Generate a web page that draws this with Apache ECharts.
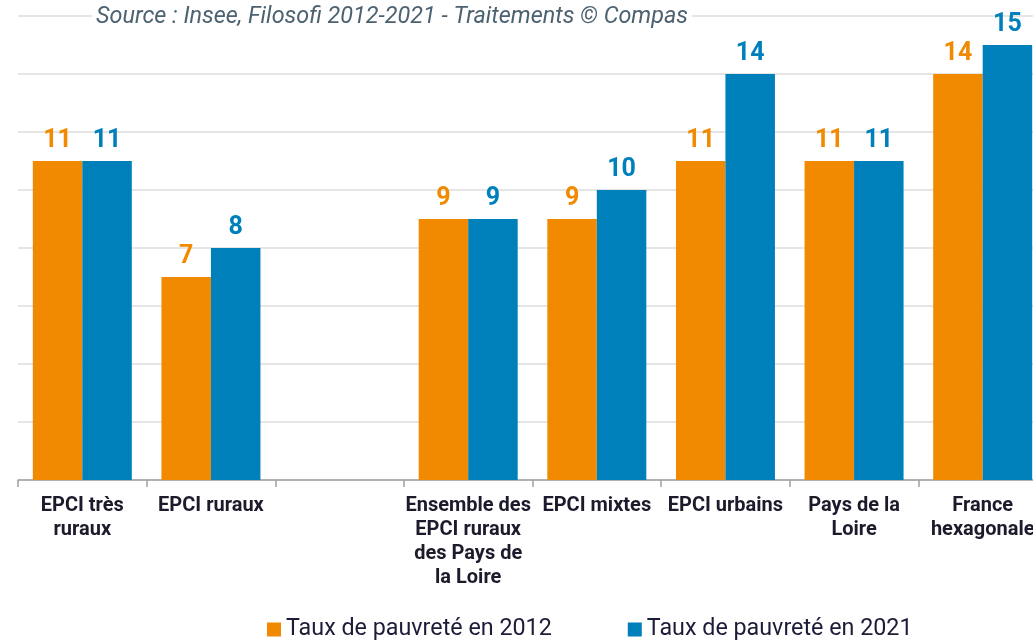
<!DOCTYPE html>
<html>
<head>
<meta charset="utf-8">
<script src="https://cdn.jsdelivr.net/npm/echarts@6/dist/echarts.min.js"></script>
<style>
  html, body { margin: 0; padding: 0; background: #fff; overflow: hidden; }
  /* le graphique d'origine est coupé à droite : la zone de tracé déborde de la fenêtre */
  #chart { width: 1047px; height: 640px; }
</style>
</head>
<body>
<div id="chart"></div>
<script>
  // catégories (la 3e est vide dans l'original)
  var categories = ['EPCI très\nruraux', 'EPCI ruraux', '', 'Ensemble des\nEPCI ruraux\ndes Pays de\nla Loire', 'EPCI mixtes', 'EPCI urbains', 'Pays de la\nLoire', 'France\nhexagonale'];
  var taux2012 = [11, 7, null, 9, 9, 11, 11, 14];
  var taux2021 = [11, 8, null, 9, 10, 14, 11, 15];
  var seriesNames = ['Taux de pauvreté en 2012', 'Taux de pauvreté en 2021'];
  var sourceText = 'Source : Insee, Filosofi 2012-2021 - Traitements © Compas';

  var ORANGE = '#f18a00';
  var BLUE = '#0080bb';
  var FONT = 'Roboto, sans-serif';

  var chart = echarts.init(document.getElementById('chart'));
  chart.setOption({
    animation: false,
    title: {
      text: sourceText,
      left: 92,
      top: 6,
      padding: [0, 4],
      backgroundColor: '#fff',
      textStyle: {
        fontFamily: FONT,
        fontStyle: 'italic',
        fontWeight: 'normal',
        fontSize: 23.4,
        color: '#4d6270'
      }
    },
    legend: {
      data: seriesNames,
      left: 262,
      top: 613,
      icon: 'rect',
      itemWidth: 14,
      itemHeight: 14,
      itemGap: 76,
      textStyle: {
        fontFamily: FONT,
        fontSize: 23.3,
        color: '#1c1c38'
      }
    },
    grid: {
      left: 18,
      right: 0,
      top: 16,
      bottom: 160,
      containLabel: false
    },
    xAxis: {
      type: 'category',
      data: categories,
      axisLine: { lineStyle: { color: '#a0a0a0', width: 1.5 } },
      axisTick: { show: true, length: 7, lineStyle: { color: '#a0a0a0', width: 1.5 } },
      axisLabel: {
        interval: 0,
        margin: 14,
        fontFamily: FONT,
        fontWeight: 'bold',
        fontSize: 20,
        lineHeight: 24,
        color: '#1b1b2b'
      }
    },
    yAxis: {
      type: 'value',
      min: 0,
      max: 16,
      interval: 2,
      axisLabel: { show: false },
      axisLine: { show: false },
      axisTick: { show: false },
      splitLine: { lineStyle: { color: '#dcdcdc', width: 1.5 } }
    },
    series: [
      {
        name: seriesNames[0],
        type: 'bar',
        data: taux2012,
        barWidth: 49.5,
        barGap: '0%',
        itemStyle: { color: ORANGE },
        label: {
          show: true,
          position: 'top',
          distance: 8,
          fontFamily: FONT,
          fontWeight: 'bold',
          fontSize: 25,
          color: ORANGE
        }
      },
      {
        name: seriesNames[1],
        type: 'bar',
        data: taux2021,
        barWidth: 49.5,
        barGap: '0%',
        itemStyle: { color: BLUE },
        label: {
          show: true,
          position: 'top',
          distance: 8,
          fontFamily: FONT,
          fontWeight: 'bold',
          fontSize: 25,
          color: BLUE
        }
      }
    ]
  });
</script>
</body>
</html>
